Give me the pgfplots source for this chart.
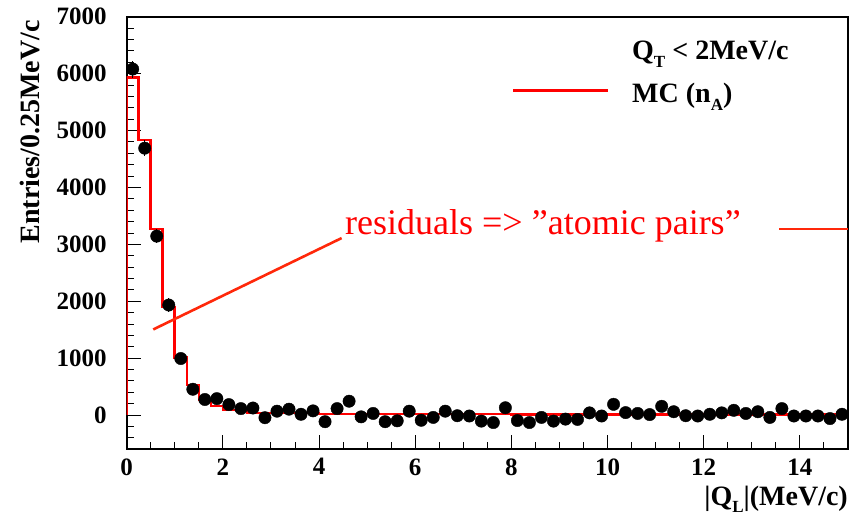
\documentclass[border=0pt]{standalone}
\usepackage{fontspec}
\setmainfont{Liberation Serif}
\usepackage{pgfplots}
\usepackage{pgfplotstable}
\pgfplotsset{compat=1.18}

% measured residual spectrum, 0.25 MeV/c bins
\pgfplotstableread{
x      y     err
0.125  6080  150
0.375  4690  140
0.625  3145  125
0.875  1935  115
1.125   995  105
1.375   455  100
1.625   275   95
1.875   290   95
2.125   185   95
2.375   115   95
2.625   125   95
2.875   -45   95
3.125    70   95
3.375   105   95
3.625    15   95
3.875    75   95
4.125  -115   95
4.375   115   95
4.625   245   95
4.875   -30   95
5.125    30   95
5.375  -115   95
5.625  -100   95
5.875    70   95
6.125   -90   95
6.375   -40   95
6.625    70   95
6.875   -10   95
7.125   -15   95
7.375  -105   95
7.625  -130   95
7.875   130   95
8.125   -95   95
8.375  -130   95
8.625   -40   95
8.875  -105   95
9.125   -70   95
9.375   -75   95
9.625    40   95
9.875   -15   95
10.125  190   95
10.375   45   95
10.625   30   95
10.875   10   95
11.125  155   95
11.375   60   95
11.625  -10   95
11.875  -15   95
12.125   15   95
12.375   40   95
12.625   85   95
12.875   30   95
13.125   60   95
13.375  -40   95
13.625  115   95
13.875  -15   95
14.125  -15   95
14.375  -15   95
14.625  -60   95
14.875   15   95
}\datatable

% MC (n_A) histogram, left bin edges
\pgfplotstableread{
x     mc
0      0
0     5935
0.25  4833
0.50  3269
0.75  1903
1.00  1014
1.25   527
1.50   264
1.75   158
2.00    88
2.25    88
2.50    40
2.75    40
3.00    40
3.25    40
3.50    40
3.75    40
4.00    20
5.00    20
6.00    20
7.00    20
8.00    12
9.00    12
10.00   12
11.00   12
12.00   12
13.00   12
14.00   12
15.00   12
}\mctable

\definecolor{annot}{RGB}{255,40,10}

\begin{document}
\begin{tikzpicture}
\path[use as bounding box] (0,0) rectangle (851bp,516bp);
\begin{axis}[
  at={(126.7bp,66.7bp)}, anchor=south west,
  scale only axis, width=721.3bp, height=432.6bp,
  xmin=0, xmax=15, ymin=-600, ymax=7000,
  xtick={0,2,...,14}, ytick={0,1000,...,7000},
  minor xtick={0.5,1,...,15},
  minor ytick={-400,-200,...,6800},
  tick align=inside, tick pos=left,
  major tick length=14bp, minor tick length=7bp,
  every tick/.style={black, line width=1bp},
  axis line style={line width=1.6bp},
  scaled ticks=false,
  /pgf/number format/1000 sep={},
  /pgf/number format/assume math mode=true,
  ticklabel style={font=\fontsize{25bp}{25bp}\selectfont\bfseries, inner sep=0pt},
  yticklabel style={anchor=east, xshift=-20bp},
  xticklabel style={anchor=north, yshift=-9bp},
  clip=true,
]
\addplot[const plot mark left, red, line width=2.6bp, line join=miter]
  table[x=x, y=mc] {\mctable};
\addplot[only marks, mark=*, mark size=6.2bp, black,
  error bars/.cd, y dir=both, y explicit,
  error bar style={line width=1.3bp, black}, error mark=none]
  table[x=x, y=y, y error=err] {\datatable};
\draw[annot, line width=2.6bp] (axis cs:0.553,1506) -- (axis cs:4.47,3111);
\draw[annot, line width=2.6bp] (axis cs:13.57,3269) -- (axis cs:15,3269);
\end{axis}

% annotation and key
\node[anchor=base west, inner sep=0, text=red,
  font=\fontsize{36bp}{36bp}\selectfont] at (345bp,281bp)
  {residuals => ''atomic pairs''};
\node[anchor=base west, inner sep=0, font=\fontsize{28bp}{28bp}\selectfont\bfseries]
  at (632bp,456bp)
  {Q\raisebox{-8bp}{\fontsize{17bp}{17bp}\selectfont T} < 2MeV/c};
\draw[red, line width=3bp] (513bp,425.3bp) -- (608bp,425.3bp);
\node[anchor=base west, inner sep=0, font=\fontsize{28bp}{28bp}\selectfont\bfseries]
  at (632bp,413bp)
  {MC (n\raisebox{-8bp}{\fontsize{17bp}{17bp}\selectfont A})};

% axis titles
\node[anchor=base east, inner sep=0, font=\fontsize{28bp}{28bp}\selectfont\bfseries]
  at (848bp,11bp)
  {|Q\raisebox{-7bp}{\fontsize{17bp}{17bp}\selectfont L}|(MeV/c)};
\node[rotate=90, anchor=base east, inner sep=0,
  font=\fontsize{28bp}{28bp}\selectfont\bfseries]
  at (39bp,496bp) {Entries/0.25MeV/c};
\end{tikzpicture}
\end{document}
